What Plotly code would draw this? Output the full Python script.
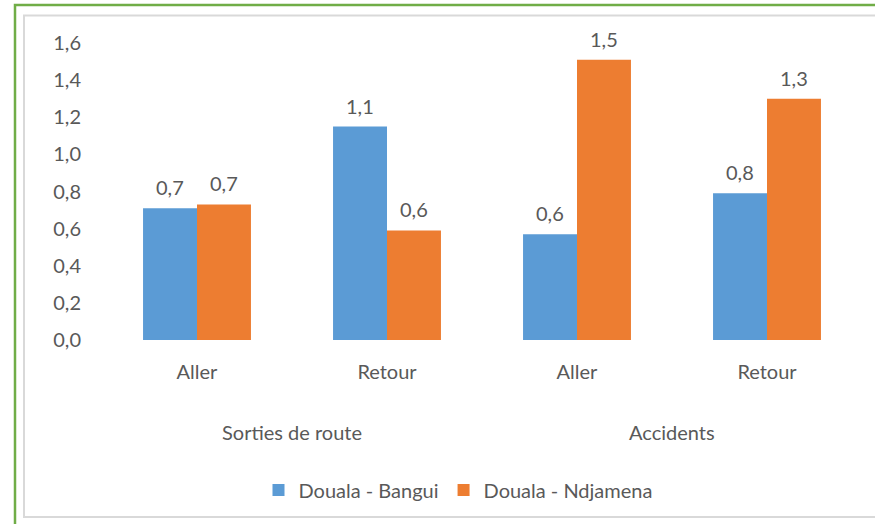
import plotly.graph_objects as go

groups = ["Sorties de route", "Accidents"]
sub_labels = ["Aller", "Retour", "Aller", "Retour"]
series_names = ["Douala - Bangui", "Douala - Ndjamena"]
bangui = [0.71, 1.15, 0.57, 0.79]
ndjamena = [0.73, 0.59, 1.51, 1.30]
y_ticks = [0.0, 0.2, 0.4, 0.6, 0.8, 1.0, 1.2, 1.4, 1.6]

W, H = 875, 524
L, R, T, B = 102, 13, 43, 184
pw, ph = W - L - R, H - T - B

def px(xp):
    return (xp - L) / pw

def py(yp):
    return (H - B - yp) / ph

FONT = "Lato"
FS = 20
TXT = "#595959"
BLUE = "#5B9BD5"
ORANGE = "#ED7D31"
bw = 0.284
xs = list(range(len(sub_labels)))

fig = go.Figure()
fig.add_trace(go.Bar(x=xs, y=bangui, name=series_names[0], marker_color=BLUE,
                     width=bw, offset=-bw, marker_line_width=0))
fig.add_trace(go.Bar(x=xs, y=ndjamena, name=series_names[1], marker_color=ORANGE,
                     width=bw, offset=0, marker_line_width=0))

annotations = []
for vals, sh in ((bangui, -bw / 2), (ndjamena, bw / 2)):
    for x, v in zip(xs, vals):
        annotations.append(dict(x=x + sh, y=v, xref="x", yref="y", text=f"{v:.1f}".replace(".", ","),
                                showarrow=False, yanchor="bottom", yshift=7,
                                font=dict(family=FONT, size=FS, color=TXT)))
for i, g in enumerate(groups):
    annotations.append(dict(x=2 * i + 0.5, y=py(432), xref="x", yref="paper", text=g,
                            showarrow=False, yanchor="middle",
                            font=dict(family=FONT, size=FS, color=TXT)))

shapes = [
    dict(type="rect", xref="paper", yref="paper", x0=px(15), x1=px(885), y0=py(5), y1=py(540),
         line=dict(color="#70AD47", width=2.5), fillcolor="rgba(0,0,0,0)", layer="below"),
    dict(type="rect", xref="paper", yref="paper", x0=px(24), x1=px(885), y0=py(15.5), y1=py(517),
         line=dict(color="#D9D9D9", width=2), fillcolor="rgba(0,0,0,0)", layer="below"),
]

fig.update_layout(
    width=W, height=H,
    margin=dict(l=L, r=R, t=T, b=B),
    paper_bgcolor="white", plot_bgcolor="white",
    separators=", ",
    barmode="group",
    showlegend=True,
    legend=dict(orientation="h", x=px(458), xanchor="center", y=py(490), yanchor="middle",
                font=dict(family=FONT, size=FS, color=TXT), itemclick=False,
                traceorder="normal", itemwidth=30),
    xaxis=dict(tickmode="array", tickvals=xs, ticktext=sub_labels, range=[-0.5, 3.5],
               showgrid=False, zeroline=False, showline=False, ticks="",
               ticklabelstandoff=18, tickfont=dict(family=FONT, size=FS, color=TXT)),
    yaxis=dict(range=[0, 1.6], tickmode="array", tickvals=y_ticks, tickformat=".1f",
               showgrid=False, zeroline=False, showline=False, ticks="",
               ticklabelstandoff=20, tickfont=dict(family=FONT, size=FS, color=TXT)),
    annotations=annotations,
    shapes=shapes,
)

fig.write_html("out.html", config={"displayModeBar": False},
               post_script="document.body.style.margin='0';document.body.style.overflow='hidden';")
